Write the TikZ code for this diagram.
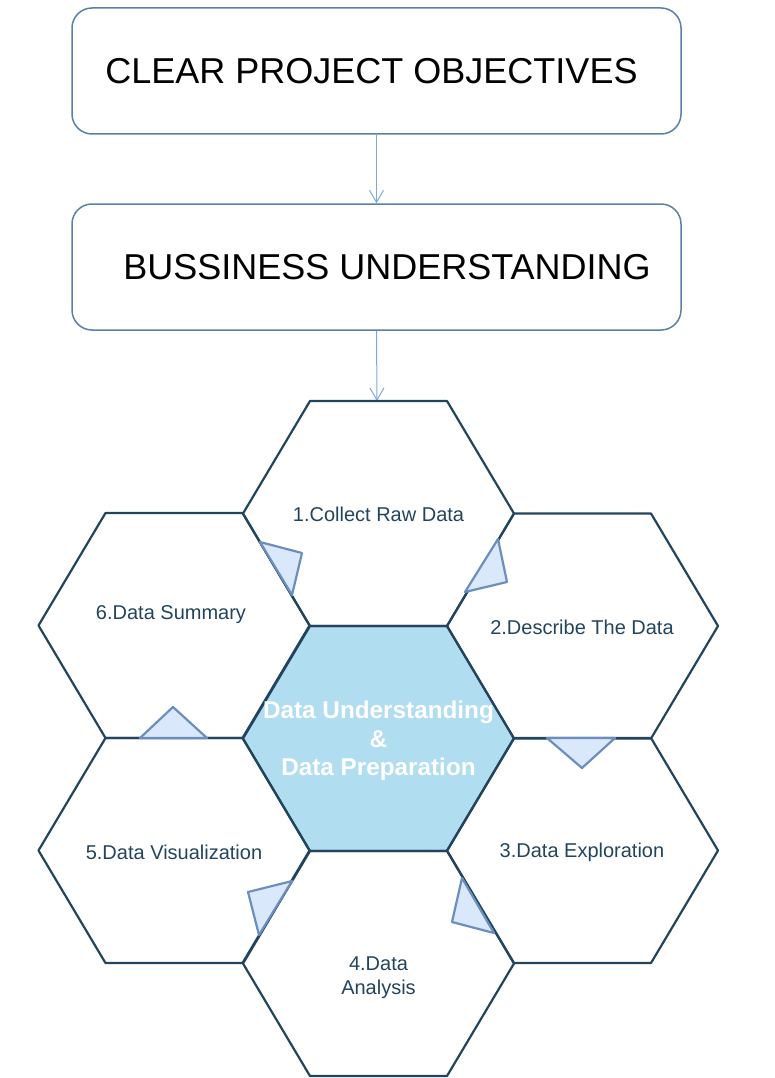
\documentclass[tikz,border=0pt]{standalone}
\usepackage{fontspec}
\setmainfont{Liberation Sans}
\usetikzlibrary{arrows.meta,calc}
\definecolor{hexline}{HTML}{23445D}
\definecolor{hexfill}{HTML}{B1DDF0}
\definecolor{trifill}{HTML}{DAE8FC}
\definecolor{triline}{HTML}{6C8EBF}
\definecolor{boxline}{HTML}{5A7FAB}
\definecolor{arrline}{HTML}{7EA6E0}
\tikzset{
  bigbox/.style={draw=boxline, line width=1.5pt, rounded corners=20pt, minimum width=609pt, minimum height=126pt, inner sep=0pt},
  boxtext/.style={font=\fontsize{36}{43}\selectfont, text=black, inner sep=0pt},
  hexlabel/.style={font=\fontsize{20}{24}\selectfont, text=hexline, align=center, inner sep=0pt},
  centerlabel/.style={font=\bfseries\fontsize{24.3}{28.5}\selectfont, text=white, align=center, inner sep=0pt},
  hexedge/.style={draw=hexline, line width=2.2pt, line join=round},
  tri/.style={draw=triline, fill=trifill, line width=2.2pt, line join=round},
  flow/.style={draw=arrline, line width=1pt, -{Straight Barb[length=12pt,width=14pt,line width=1pt]}}
}
\newcommand{\hexpath}[1]{($(#1)+(-135.5,0)$) -- ($(#1)+(-68.5,-112.5)$) -- ($(#1)+(68.5,-112.5)$) -- ($(#1)+(135.5,0)$) -- ($(#1)+(68.5,112.5)$) -- ($(#1)+(-68.5,112.5)$) -- cycle}
\begin{document}
\begin{tikzpicture}[x=1pt,y=-1pt]
\useasboundingbox (0,0) rectangle (774,1078);
% boxes
\node[bigbox] (b1) at (376.5,71) {};
\node[boxtext] (t1) at (371.5,71) {CLEAR PROJECT OBJECTIVES};
\node[bigbox] (b2) at (376.5,267) {};
\node[boxtext] (t2) at (387,267) {BUSSINESS UNDERSTANDING};
\draw[flow] (b1.south) -- (b2.north);
\coordinate (hextop) at (377,401);
\draw[flow] (b2.south) -- (hextop);
% hexagon centres
\coordinate (hc) at (378.5,738.5);
\coordinate (h1) at (378.5,513.5);
\coordinate (h2) at (582.5,626);
\coordinate (h3) at (582.5,850.5);
\coordinate (h4) at (378.5,963.5);
\coordinate (h5) at (174,850.5);
\coordinate (h6) at (174,625.5);
\fill[hexfill] \hexpath{hc};
\foreach \h in {h1,h2,h3,h4,h5,h6,hc}{\draw[hexedge] \hexpath{\h};}
% labels
\node[hexlabel] (l1) at (378.5,514) {1.Collect Raw Data};
\node[hexlabel] (l2) at (582,627) {2.Describe The Data};
\node[hexlabel] (l3) at (582,852) {3.Data Exploration};
\node[hexlabel] (l4) at (378.5,978) {4.Data\\Analysis};
\node[hexlabel] (l5) at (174,852) {5.Data Visualization};
\node[hexlabel] (l6) at (171,615) {6.Data Summary};
\node[centerlabel] (lc) at (378.5,741) {Data Understanding\\\&\\Data Preparation};
% triangles
\draw[tri] (260,542) -- (302,553) -- (292,595) -- cycle;
\draw[tri] (498,539) -- (507,582) -- (465,592) -- cycle;
\draw[tri] (547,738) -- (615,738) -- (582,768) -- cycle;
\draw[tri] (462,878) -- (452,922) -- (494,933) -- cycle;
\draw[tri] (292,881) -- (248,892) -- (259,935) -- cycle;
\draw[tri] (140,738) -- (173,707) -- (207,738) -- cycle;
\end{tikzpicture}
\end{document}
